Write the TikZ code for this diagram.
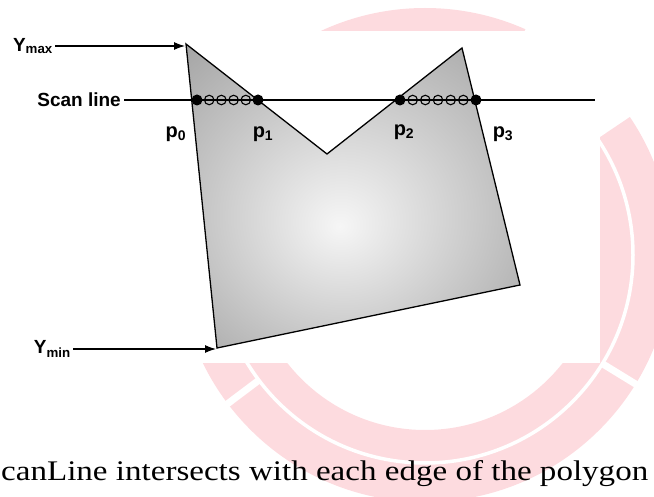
\documentclass[tikz,border=0pt]{standalone}
\usepackage{fontspec}
\setmainfont{Liberation Serif}
\setsansfont{Liberation Sans}
\usetikzlibrary{arrows.meta,calc}
\definecolor{wm}{RGB}{253,219,223}
\definecolor{shin}{RGB}{246,246,246}
\definecolor{shout}{RGB}{160,160,160}
\pgfdeclareradialshading{polyshade}{\pgfpoint{-2bp}{-5bp}}{color(0bp)=(shin); color(38bp)=(shout); color(50bp)=(shout)}
\begin{document}
\begin{tikzpicture}[x=1pt,y=-1pt,
  lbl/.style={font=\sffamily\bfseries\fontsize{19}{19}\selectfont, inner sep=0pt},
  plbl/.style={font=\sffamily\bfseries\fontsize{20}{20}\selectfont, inner sep=0pt},
  fdot/.style={circle, fill=black, minimum size=11pt, inner sep=0pt},
  odot/.style={circle, draw=black, line width=1.1pt, minimum size=9.5pt, inner sep=0pt},
  arr/.style={line width=1.1pt, -{Latex[length=11pt,width=8pt]}},
  polyedge/.style={line width=1.3pt, line join=miter},
  gap/.style={white, line width=7pt}]
\useasboundingbox (0,0) rectangle (654,497);
% watermark
\coordinate (wc) at (425,255);
\fill[wm, even odd rule] (wc) circle[radius=247] (wc) circle[radius=175];
\draw[white, line width=3.5pt] (wc) circle[radius=208];
\foreach \a in {-31.5,-143}{
  \draw[gap] ($(wc)+(-\a:209)$) -- ($(wc)+(-\a:260)$);
}
\fill[white] ($(wc)+(-34:209)$) arc[start angle=-34, end angle=-66, radius=209]
  -- ($(wc)+(-66:275)$) arc[start angle=-66, end angle=-34, radius=275] -- cycle;
% white diagram background
\fill[white] (0,31) rectangle (600,363);
% polygon
\coordinate (A) at (186,44);
\coordinate (V) at (327,154);
\coordinate (B) at (462,48);
\coordinate (C) at (520,285);
\coordinate (D) at (217,348);
\shade[shading=polyshade] (A) -- (V) -- (B) -- (C) -- (D) -- cycle;
\draw[polyedge] (A) -- (V) -- (B) -- (C) -- (D) -- cycle;
% scan line
\node[lbl, anchor=east] (scan) at (121,100) {Scan line};
\coordinate (scanend) at (595,100);
\draw[line width=1.1pt] (scan.east) ++(3,0) -- (scanend);
% intersection dots
\node[fdot] (p0) at (197,100) {};
\node[fdot] (p1) at (258,100) {};
\node[fdot] (p2) at (400,100) {};
\node[fdot] (p3) at (476,100) {};
\foreach \x in {209.2,221.4,233.6,245.8}{\node[odot] at (\x,100) {};}
\foreach \x in {412.7,425.3,438,450.7,463.3}{\node[odot] at (\x,100) {};}
% labels
\node[plbl] (l0) at (176,134) {p\textsubscript{0}};
\node[plbl] (l1) at (263,134) {p\textsubscript{1}};
\node[plbl] (l2) at (404,132) {p\textsubscript{2}};
\node[plbl] (l3) at (503,134) {p\textsubscript{3}};
% Ymax / Ymin
\node[lbl, anchor=east] (ymax) at (53,46) {Y\textsubscript{max}};
\coordinate (ymaxtip) at (185,46);
\draw[arr] (ymax.east) ++(2,0) -- (ymaxtip);
\node[lbl, anchor=east] (ymin) at (71,349) {Y\textsubscript{min}};
\coordinate (ymintip) at (216,349);
\draw[arr] (ymin.east) ++(2,0) -- (ymintip);
% caption
\node[anchor=base west, inner sep=0pt] (cap) at (1,480) {\resizebox{647pt}{20pt}{canLine intersects with each edge of the polygon}};
\end{tikzpicture}
\end{document}
